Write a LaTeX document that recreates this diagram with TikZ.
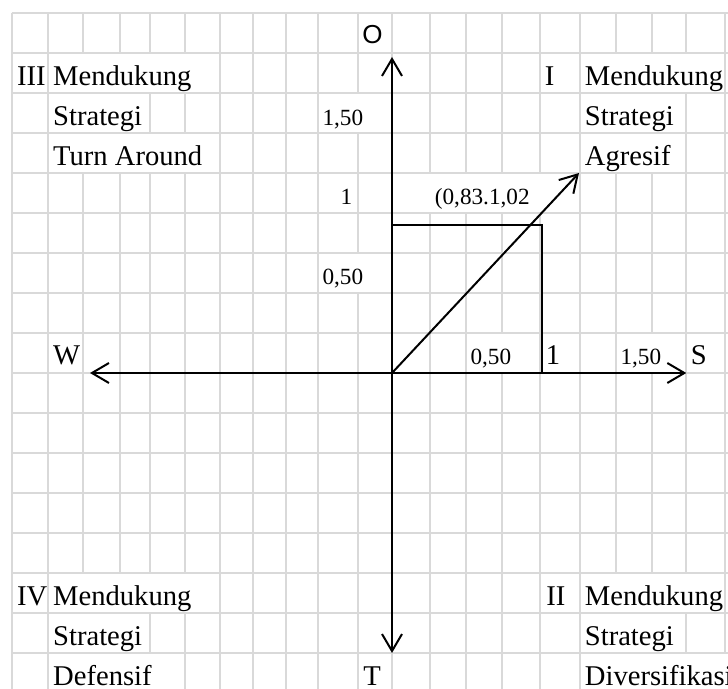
\documentclass[tikz,border=0pt]{standalone}
\usepackage{fontspec}
\setmainfont{Liberation Serif}
\newfontfamily\arialfont{Liberation Sans}
\usetikzlibrary{arrows.meta}
\begin{document}
\begin{tikzpicture}[x=0.5pt,y=-0.5pt,
  gridline/.style={draw=black!15,line width=1pt},
  spill/.style={fill=white},
  axis/.style={line width=1pt,{Straight Barb[length=8.5pt,width=10pt]}-{Straight Barb[length=8.5pt,width=10pt]}},
  vec/.style={line width=1pt,-{Straight Barb[length=8.5pt,width=10pt]}},
  big/.style={inner sep=0pt,font=\fontsize{14.3pt}{17pt}\selectfont},
  num/.style={inner sep=0pt,font=\fontsize{11.6pt}{14pt}\selectfont}]
\useasboundingbox (0,0) rectangle (728,689);
\clip (0,0) rectangle (728,689);
\foreach \yy in {13.3,53.3,93.3,133.3,173.3,213.3,253.3,293.3,333.3,373.3,413.3,453.3,493.3,533.3,573.3,613.3,653.3}
  \draw[gridline] (11.7,\yy) -- (728,\yy);
\foreach \xx in {11.7,48.3,83.3,120,150,185,220,253.3,285.7,318.3,358.3,392.3,430,466,502,540.3,580.3,616.3,652,686.3,725}
  \draw[gridline] (\xx,13.3) -- (\xx,689);
\foreach \xa/\ya/\xb/\yb in {49.3/54.3/219/92.3, 49.3/94.3/149/132.3, 49.3/134.3/219/172.3,
  581.3/54.3/724/92.3, 581.3/94.3/685.3/132.3, 581.3/134.3/685.3/172.3,
  319.3/94.3/391.3/132.3, 319.3/254.3/391.3/292.3, 393.3/174.3/579.3/212.3,
  467/334.3/539.3/372.3, 617.3/334.3/685.3/372.3,
  49.3/574.3/219/612.3, 49.3/614.3/149/652.3, 49.3/654.3/184/700,
  581.3/574.3/724/612.3, 581.3/614.3/685.3/652.3, 581.3/654.3/730/700}
  \fill[spill] (\xa,\ya) rectangle (\xb,\yb);
\node[big,anchor=base west] (r3) at (16.7,85.3) {III};
\node[big,anchor=base west] (m3) at (52.8,85.3) {Mendukung};
\node[big,anchor=base west] (s3) at (52.8,125.3) {Strategi};
\node[big,anchor=base west] (t3) at (52.8,165.3) {Turn Around};
\node[big,anchor=base west] (r1) at (544.5,85.3) {I};
\node[big,anchor=base west] (m1) at (584.5,85.3) {Mendukung};
\node[big,anchor=base west] (s1) at (584.5,125.3) {Strategi};
\node[big,anchor=base west] (t1) at (584.5,165.3) {Agresif};
\node[big,anchor=base west] (r4) at (16.7,605.3) {IV};
\node[big,anchor=base west] (m4) at (52.8,605.3) {Mendukung};
\node[big,anchor=base west] (s4) at (52.8,645.3) {Strategi};
\node[big,anchor=base west] (t4) at (52.8,685.3) {Defensif};
\node[big,anchor=base west] (r2) at (546,605.3) {II};
\node[big,anchor=base west] (m2) at (584.5,605.3) {Mendukung};
\node[big,anchor=base west] (s2) at (584.5,645.3) {Strategi};
\node[big,anchor=base west] (t2) at (584.5,685.3) {Diversifikasi};
\coordinate (orig) at (392,373);
\coordinate (otip) at (392,57);
\coordinate (ttip) at (392,653);
\coordinate (wtip) at (90,373);
\coordinate (stip) at (686.3,373);
\coordinate (ptip) at (579,173);
\coordinate (ry) at (392,225);
\coordinate (rx) at (542,373);
\draw[line width=1pt] (ry) -| (rx);
\draw[axis] (ttip) -- (otip);
\draw[axis] (wtip) -- (stip);
\draw[vec] (orig) -- (ptip);
\node[inner sep=0pt,anchor=base,font=\arialfont\fontsize{13pt}{15pt}\selectfont] (olab) at (372.5,44) {O};
\node[big,anchor=base] (tlab) at (372,685) {T};
\node[big,anchor=base] (wlab) at (66.7,365) {W};
\node[big,anchor=base] (slab) at (698.8,365) {S};
\node[num,anchor=base east] (v150) at (363.5,126) {1,50};
\node[num,anchor=base] (v1) at (346.3,205) {1};
\node[num,anchor=base east] (v050) at (363.5,285) {0,50};
\node[num,anchor=base west] (plab) at (434.5,205) {(0,83.1,02};
\node[num,anchor=base east] (h050) at (511.5,365) {0,50};
\node[big,anchor=base west] (h1) at (545.5,365) {1};
\node[num,anchor=base east] (h150) at (661.5,365) {1,50};
\end{tikzpicture}
\end{document}
